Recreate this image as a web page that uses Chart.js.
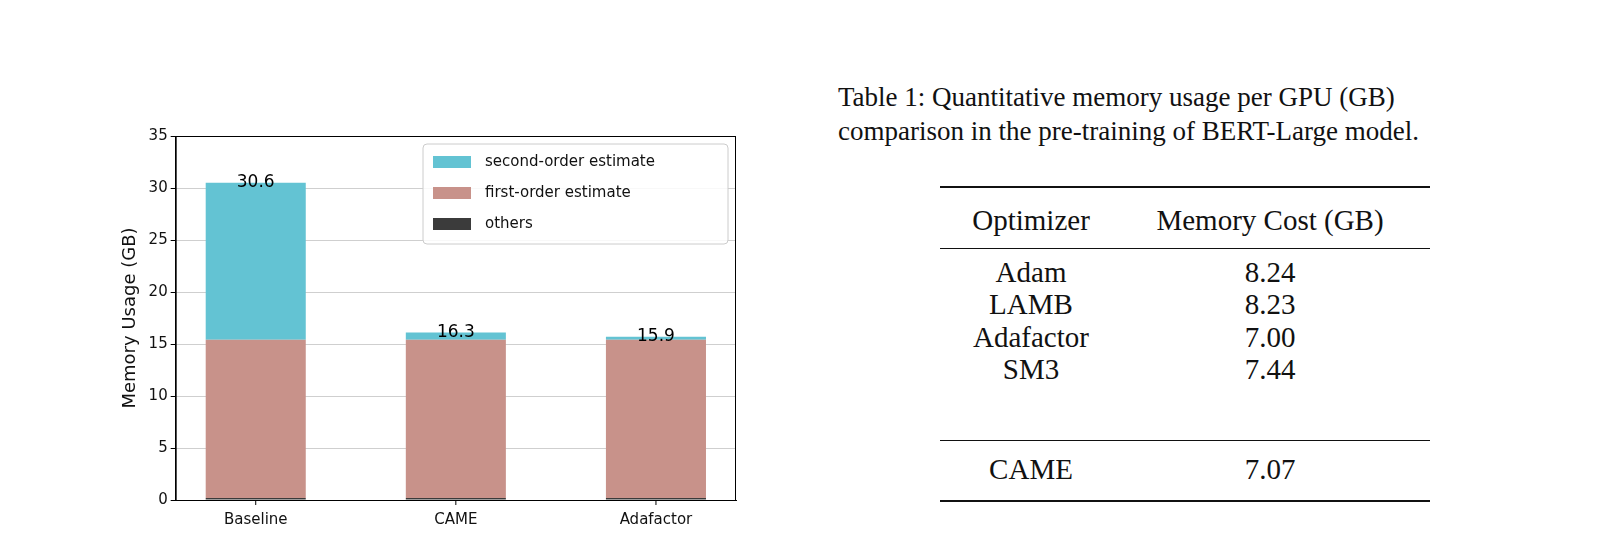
<!DOCTYPE html>
<html>
<head>
<meta charset="utf-8">
<script src="https://cdn.jsdelivr.net/npm/chart.js@4"></script>
<style>
  body { margin: 0; width: 1600px; height: 558px; background: #fff; position: relative; overflow: hidden; }
  #chartBox { position: absolute; left: 116px; top: 124px; width: 630px; height: 408px; }
  .serif { font-family: "Liberation Serif", "DejaVu Serif", serif; color: #111; position: absolute; }
  .cap { left: 838px; font-size: 27px; white-space: nowrap; }
  .rule { position: absolute; left: 940px; width: 490px; background: #111; }
  .c1, .c2 { font-size: 29px; transform: translate(-50%, -50%); white-space: nowrap; }
</style>
</head>
<body>
<div id="chartBox"><canvas id="memChart"></canvas></div>

<div class="serif cap" style="top:82px">Table 1: Quantitative memory usage per GPU (GB)</div>
<div class="serif cap" style="top:116px">comparison in the pre-training of BERT-Large model.</div>
<div class="rule" style="top:186px;height:2px"></div>
<div class="rule" style="top:248px;height:1px"></div>
<div class="rule" style="top:440px;height:1px"></div>
<div class="rule" style="top:500px;height:2px"></div>
<div id="tbl"></div>

<script>
// bar chart data
const categories = ['Baseline', 'CAME', 'Adafactor'];
const others = [0.2, 0.2, 0.2];
const firstOrder = [15.2, 15.2, 15.2];
const secondOrder = [15.1, 0.7, 0.3];
const totalLabels = ['30.6', '16.3', '15.9'];

// table data
const optimizers = ['Adam', 'LAMB', 'Adafactor', 'SM3', 'CAME'];
const memCost = ['8.24', '8.23', '7.00', '7.44', '7.07'];

const tbl = document.getElementById('tbl');
function cell(txt, x, y, cls) {
    const d = document.createElement('div');
    d.className = 'serif ' + cls;
    d.style.left = x + 'px';
    d.style.top = y + 'px';
    d.textContent = txt;
    tbl.appendChild(d);
}
cell('Optimizer', 1031, 220, 'c1');
cell('Memory Cost (GB)', 1270, 220, 'c2');
const rowY = [272, 304, 337, 369, 469];
optimizers.forEach((o, i) => {
    cell(o, 1031, rowY[i], 'c1');
    cell(memCost[i], 1270, rowY[i], 'c2');
});

const pts = arr => arr.map((v, i) => ({ x: i, y: v }));

const topLabels = {
    id: 'topLabels',
    afterDatasetsDraw(chart) {
        const ctx = chart.ctx;
        const meta = chart.getDatasetMeta(2);
        ctx.save();
        ctx.font = '17px "DejaVu Sans"';
        ctx.fillStyle = '#000';
        ctx.textAlign = 'center';
        ctx.textBaseline = 'middle';
        meta.data.forEach((bar, i) => ctx.fillText(totalLabels[i], bar.x, bar.y));
        ctx.restore();
    }
};

new Chart(document.getElementById('memChart'), {
    type: 'bar',
    data: {
        datasets: [
            { label: 'others', data: pts(others), backgroundColor: '#3b3b3b' },
            { label: 'first-order estimate', data: pts(firstOrder), backgroundColor: '#c8928a' },
            { label: 'second-order estimate', data: pts(secondOrder), backgroundColor: '#63c3d3' }
        ]
    },
    options: {
        responsive: true,
        maintainAspectRatio: false,
        animation: false,
        barPercentage: 0.5,
        categoryPercentage: 1,
        layout: { padding: { right: 10, top: 6 } },
        plugins: {
            legend: { display: false },
            tooltip: { enabled: false }
        },
        scales: {
            x: {
                type: 'linear', stacked: true, min: -0.4, max: 2.4, offset: false,
                grid: { display: false, drawTicks: true },
                border: { color: '#000' },
                afterBuildTicks: a => { a.ticks = [0, 1, 2].map(v => ({ value: v })); },
                ticks: {
                    callback: v => categories[v],
                    font: { family: 'DejaVu Sans', size: 15 }, color: '#111'
                }
            },
            y: {
                stacked: true, min: 0, max: 35,
                grid: { color: '#cfcfcf', drawTicks: true, tickColor: '#000', tickLength: 5 },
                border: { color: '#000' },
                ticks: { stepSize: 5, font: { family: 'DejaVu Sans', size: 15 }, color: '#111' },
                title: { display: true, text: 'Memory Usage (GB)', font: { family: 'DejaVu Sans', size: 18 }, color: '#111' }
            }
        }
    },
    plugins: [topLabels, {
        id: 'frameAndLegend',
        afterDraw(chart) {
            const ctx = chart.ctx, a = chart.chartArea;
            ctx.save();
            ctx.strokeStyle = '#000';
            ctx.lineWidth = 1;
            ctx.strokeRect(a.left + 0.5, a.top + 0.5, a.right - a.left - 1, a.bottom - a.top);
            // x tick marks
            [0, 1, 2].forEach(v => {
                const px = chart.scales.x.getPixelForValue(v);
                ctx.beginPath(); ctx.moveTo(px, a.bottom); ctx.lineTo(px, a.bottom + 5); ctx.stroke();
            });
            const x = a.right - 313, y = a.top + 8, w = 305, h = 100;
            ctx.fillStyle = 'rgba(255,255,255,0.85)';
            ctx.strokeStyle = '#ccc';
            ctx.beginPath(); ctx.roundRect(x, y, w, h, 4); ctx.fill(); ctx.stroke();
            const items = [['second-order estimate', '#63c3d3'], ['first-order estimate', '#c8928a'], ['others', '#3b3b3b']];
            ctx.font = '15px "DejaVu Sans"';
            ctx.textBaseline = 'middle';
            items.forEach((it, i) => {
                const cy = y + 18 + i * 31;
                ctx.fillStyle = it[1];
                ctx.fillRect(x + 10, cy - 6, 38, 12);
                ctx.fillStyle = '#111';
                ctx.fillText(it[0], x + 62, cy);
            });
            ctx.restore();
        }
    }]
});
</script>
</body>
</html>
